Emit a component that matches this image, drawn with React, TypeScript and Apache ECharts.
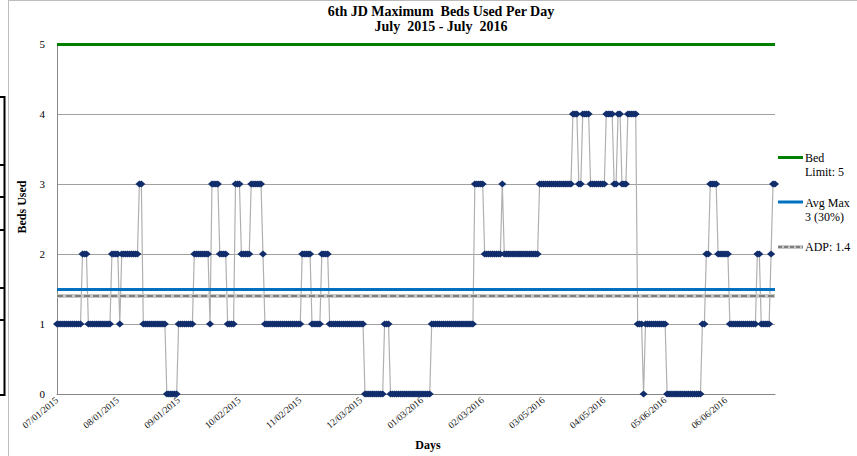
import React, { useEffect, useRef } from 'react';
import * as echarts from 'echarts';

// Daily maximum beds used, 07/01/2015 .. 07/01/2016 (367 days)
const bedsUsed: number[] = [
  1,1,1,1,1,1,1,1,1,1, 1,1,1,
  2,2,2,
  1,1,1,1,1,1,1,1,1,1, 1,1,
  2,2,2,2,
  1,
  2,2,2,2,2,2,2,2,2,
  3,3,
  1,1,1,1,1,1,1,1,1,1, 1,1,
  0,0,0,0,0,0,
  1,1,1,1,1,1,1,1,
  2,2,2,2,2,2,2,2,
  1,
  3,3,3,3,
  2,2,2,2,
  1,1,1,1,
  3,3,3,
  2,2,2,2,2,
  3,3,3,3,3,3,
  2,
  1,1,1,1,1,1,1,1,1,1, 1,1,1,1,1,1,1,1,1,
  2,2,2,2,2,
  1,1,1,1,1,
  2,2,2,2,
  1,1,1,1,1,1,1,1,1,1, 1,1,1,1,1,1,1,1,
  0,0,0,0,0,0,0,0,0,0,
  1,1,1,
  0,0,0,0,0,0,0,0,0,0, 0,0,0,0,0,0,0,0,0,0, 0,
  1,1,1,1,1,1,1,1,1,1, 1,1,1,1,1,1,1,1,1,1, 1,1,
  3,3,3,3,3,
  2,2,2,2,2,2,2,2,2,
  3,
  2,2,2,2,2,2,2,2,2,2, 2,2,2,2,2,2,2,2,
  3,3,3,3,3,3,3,3,3,3, 3,3,3,3,3,3,3,
  4,4,4,
  3,3,
  4,4,4,4,
  3,3,3,3,3,3,3,3,
  4,4,4,4,
  3,3,
  4,4,
  3,3,3,
  4,4,4,4,4,
  1,1,1,
  0,
  1,1,1,1,1,1,1,1,1,1, 1,
  0,0,0,0,0,0,0,0,0,0, 0,0,0,0,0,0,0,0,
  1,1,
  2,2,
  3,3,3,3,
  2,2,2,2,2,2,
  1,1,1,1,1,1,1,1,1,1, 1,1,1,1,
  2,2,
  1,1,1,1,1,
  2,
  3,3,
];

const startYear = 2015;
const startMonthIndex = 6; // July
const startDay = 1;

const bedLimit = 5;
const avgMax = 1.49;
const adp = 1.4;

const yMin = 0;
const yMax = 5;
const yInterval = 1;
const labelEvery = 31;

const titleLines = ['6th JD Maximum  Beds Used Per Day', 'July  2015 - July  2016'];
const xAxisName = 'Days';
const yAxisName = 'Beds Used';
const legendBed = ['Bed', 'Limit: 5'];
const legendAvg = ['Avg Max', '3 (30%)'];
const legendAdp = ['ADP: 1.4'];

const pad = (n: number) => (n < 10 ? '0' + n : '' + n);
const days: string[] = bedsUsed.map((_, i) => {
  const d = new Date(Date.UTC(startYear, startMonthIndex, startDay + i));
  return `${pad(d.getUTCMonth() + 1)}/${pad(d.getUTCDate())}/${d.getUTCFullYear()}`;
});

const SERIF = '"Liberation Serif", "DejaVu Serif", serif';

export default function App() {
  const ref = useRef<HTMLDivElement>(null);
  useEffect(() => {
    document.body.style.margin = '0';
    if (!ref.current) return;
    const chart = echarts.init(ref.current, undefined, { renderer: 'svg' });

    const legendText = (x: number, y: number, lines: string[]) =>
      lines.map((t, i) => ({
        type: 'text',
        x,
        y: y + i * 14,
        style: { text: t, fill: '#000', font: `12px ${SERIF}`, textVerticalAlign: 'middle' },
        silent: true,
      }));

    const leftTicks = [97, 165, 197, 230, 288, 320, 395];

    chart.setOption({
      animation: false,
      backgroundColor: '#fff',
      grid: { left: 57, right: 82, top: 44, bottom: 62, containLabel: false },
      xAxis: {
        type: 'category',
        data: days,
        boundaryGap: false,
        axisLine: { show: true, lineStyle: { color: '#868686', width: 1 } },
        axisTick: { show: false },
        splitLine: { show: false },
        axisLabel: {
          interval: labelEvery - 1,
          rotate: 40,
          margin: 5,
          fontSize: 9.5,
          fontFamily: SERIF,
          color: '#111',
        },
      },
      yAxis: {
        type: 'value',
        min: yMin,
        max: yMax,
        interval: yInterval,
        axisLine: { show: true, lineStyle: { color: '#868686', width: 1 } },
        axisTick: { show: false },
        splitLine: { show: true, lineStyle: { color: '#a0a0a0', width: 1 } },
        axisLabel: { fontSize: 11, fontFamily: SERIF, color: '#000', margin: 12 },
      },
      series: [
        {
          name: 'Beds Used',
          type: 'line',
          data: bedsUsed,
          showAllSymbol: true,
          symbol: 'diamond',
          symbolSize: [8, 7],
          itemStyle: { color: '#112d6b' },
          lineStyle: { color: '#b0b0b0', width: 1.2 },
          z: 3,
          markLine: {
            silent: true,
            symbol: ['none', 'none'],
            label: { show: false },
            animation: false,
            data: [
              { yAxis: bedLimit, lineStyle: { color: '#008000', width: 3, type: 'solid' } },
              { yAxis: avgMax, lineStyle: { color: '#0070c0', width: 3, type: 'solid' } },
              { yAxis: adp, lineStyle: { color: '#c8c8c8', width: 4, type: 'solid' } },
              { yAxis: adp, lineStyle: { color: '#7f7f7f', width: 2, type: [6, 3] } },
            ],
          },
        },
      ],
      graphic: [
        // chart border
        { type: 'line', shape: { x1: 8.5, y1: 0, x2: 8.5, y2: 456 }, style: { stroke: '#bdbdbd', lineWidth: 1 }, silent: true },
        { type: 'line', shape: { x1: 8, y1: 0.5, x2: 857, y2: 0.5 }, style: { stroke: '#bdbdbd', lineWidth: 1 }, silent: true },
        // black bracket at left edge
        { type: 'line', shape: { x1: 4.5, y1: 96, x2: 4.5, y2: 396 }, style: { stroke: '#000', lineWidth: 2 }, silent: true },
        ...leftTicks.map((y) => ({
          type: 'line',
          shape: { x1: 0, y1: y, x2: 5, y2: y },
          style: { stroke: '#000', lineWidth: 2 },
          silent: true,
        })),
        // title
        ...titleLines.map((t, i) => ({
          type: 'text',
          x: 441,
          y: 11 + i * 15,
          style: { text: t, fill: '#000', font: `bold 14px ${SERIF}`, textAlign: 'center', textVerticalAlign: 'middle' },
          silent: true,
        })),
        // axis names
        {
          type: 'text',
          x: 428,
          y: 445,
          style: { text: xAxisName, fill: '#000', font: `bold 12px ${SERIF}`, textAlign: 'center', textVerticalAlign: 'middle' },
          silent: true,
        },
        {
          type: 'text',
          x: 22,
          y: 207,
          rotation: Math.PI / 2,
          style: { text: yAxisName, fill: '#000', font: `bold 12px ${SERIF}`, textAlign: 'center', textVerticalAlign: 'middle' },
          silent: true,
        },
        // legend
        { type: 'line', shape: { x1: 778, y1: 157.5, x2: 803, y2: 157.5 }, style: { stroke: '#008000', lineWidth: 3 }, silent: true },
        ...legendText(805, 158, legendBed),
        { type: 'line', shape: { x1: 778, y1: 202, x2: 803, y2: 202 }, style: { stroke: '#0070c0', lineWidth: 3 }, silent: true },
        ...legendText(805, 203, legendAvg),
        { type: 'line', shape: { x1: 778, y1: 247, x2: 803, y2: 247 }, style: { stroke: '#c8c8c8', lineWidth: 4 }, silent: true },
        { type: 'line', shape: { x1: 778, y1: 247, x2: 803, y2: 247 }, style: { stroke: '#7f7f7f', lineWidth: 2, lineDash: [4, 2] }, silent: true },
        ...legendText(805, 247, legendAdp),
      ],
    });
    return () => chart.dispose();
  }, []);
  return <div ref={ref} style={{ position: 'fixed', left: 0, top: 0, width: 857, height: 456 }} />;
}
